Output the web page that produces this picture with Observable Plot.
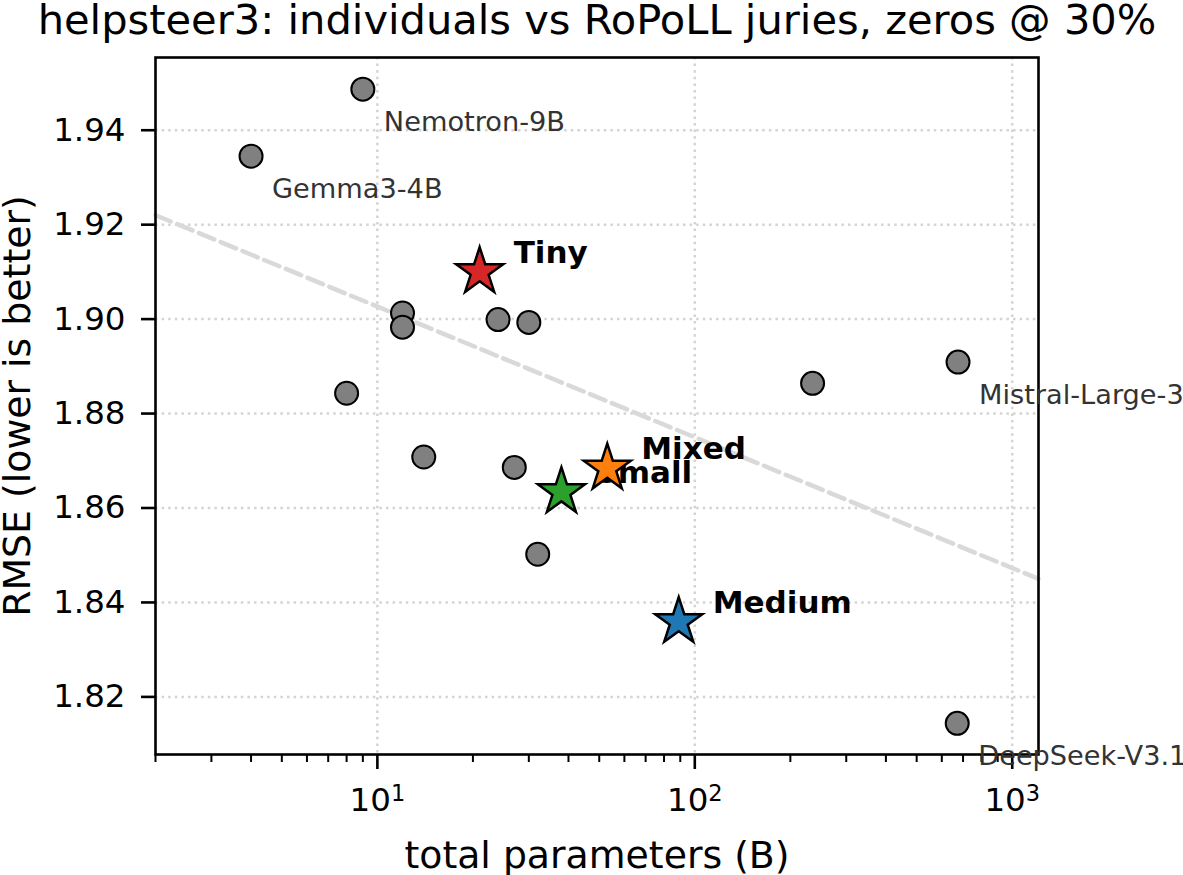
<!DOCTYPE html>
<html>
<head>
<meta charset="utf-8">
<script src="https://cdn.jsdelivr.net/npm/d3@7"></script>
<script src="https://cdn.jsdelivr.net/npm/@observablehq/plot@0.6"></script>
<style>
  html, body { margin: 0; padding: 0; background: #ffffff; }
  #chart svg { display: block; font-family: "DejaVu Sans", sans-serif; }
</style>
</head>
<body>
<div id="chart"></div>
<script>
// ---- data ----
const titleText = "helpsteer3: individuals vs RoPoLL juries, zeros @ 30%";
const xLabelText = "total parameters (B)";
const yLabelText = "RMSE (lower is better)";

// individual judges (total params in B, RMSE)
const individualParams = [9, 4, 12, 12, 8, 14, 24, 30, 27, 32, 235, 675, 671];
const individualRmse   = [1.9487, 1.9345, 1.9013, 1.8983, 1.8843, 1.8708, 1.8999, 1.8993, 1.8686, 1.8502, 1.8864, 1.8909, 1.8144];
const individualLabels = ["Nemotron-9B", "Gemma3-4B", "", "", "", "", "", "", "", "", "", "Mistral-Large-3", "DeepSeek-V3.1"];

// RoPoLL juries
const juryNames  = ["Tiny", "Mixed", "Small", "Medium"];
const juryParams = [21, 53, 38, 89];
const juryRmse   = [1.9100, 1.8684, 1.8634, 1.8359];
const juryColors = ["#d62728", "#ff7f0e", "#2ca02c", "#1f77b4"];

// trend line (log-linear fit over individuals), endpoints at the axis limits
const trendParams = [2, 1210];
const trendRmse   = [1.9220, 1.8450];

// axes
const xDomain = [2, 1210];
const yDomain = [1.8078, 1.9554];
const xMajorTicks = [10, 100, 1000];
const xMajorTickLabels = ["10¹", "10²", "10³"];
const xMinorTicks = [2, 3, 4, 5, 6, 7, 8, 9, 20, 30, 40, 50, 60, 70, 80, 90, 200, 300, 400, 500, 600, 700, 800, 900];
const yTicks = [1.82, 1.84, 1.86, 1.88, 1.90, 1.92, 1.94];
const yTickLabels = ["1.82", "1.84", "1.86", "1.88", "1.90", "1.92", "1.94"];

// ---- tables ----
const individuals = individualParams.map((p, i) => ({params: p, rmse: individualRmse[i], label: individualLabels[i]}));
const juries = juryNames.map((n, i) => ({name: n, params: juryParams[i], rmse: juryRmse[i], color: juryColors[i]}));
const trend = trendParams.map((p, i) => ({params: p, rmse: trendRmse[i]}));

const gridStyle = {stroke: "#d4d4d4", strokeOpacity: 1, strokeWidth: 2.5, strokeDasharray: "2.5,4.1"};

const chart = Plot.plot({
  width: 1183,
  height: 875,
  marginLeft: 155,
  marginRight: 145,
  marginTop: 57,
  marginBottom: 121,
  style: {fontFamily: "'DejaVu Sans', sans-serif", background: "#ffffff", color: "#000000", overflow: "visible"},
  x: {type: "log", domain: xDomain, axis: null},
  y: {domain: yDomain, axis: null},
  color: {type: "identity"},
  marks: [
    Plot.gridY(yTicks, gridStyle),
    Plot.gridX(xMajorTicks, gridStyle),
    Plot.line(trend, {x: "params", y: "rmse", stroke: "#d9d9d9", strokeWidth: 4.5, strokeDasharray: "16.5,7"}),
    Plot.dot(individuals, {x: "params", y: "rmse", r: 11.5, fill: "#808080", stroke: "#000000", strokeWidth: 2}),
    Plot.frame({stroke: "#000000", strokeWidth: 2.6}),
    Plot.axisX(xMinorTicks, {tickSize: 8, strokeWidth: 2, tickFormat: () => "", label: null}),
    Plot.axisX(xMajorTicks, {tickSize: 15, tickPadding: 18.5, strokeWidth: 2.6, fontSize: 32.5,
      tickFormat: d => xMajorTickLabels[xMajorTicks.indexOf(d)], label: null}),
    Plot.axisY(yTicks, {tickSize: 14, tickPadding: 16, strokeWidth: 2.6, fontSize: 32.5,
      tickFormat: d => yTickLabels[yTicks.indexOf(d)], label: null}),
    Plot.text(individuals.filter(d => d.label), {x: "params", y: "rmse", text: "label", dx: 21, dy: 42,
      textAnchor: "start", lineAnchor: "bottom", fontSize: 27.2, fill: "#333333"}),
    Plot.text(juries, {x: "params", y: "rmse", text: "name", dx: 34, dy: -9,
      textAnchor: "start", lineAnchor: "bottom", fontSize: 31, fontWeight: "bold", fill: "#000000"}),
    Plot.dot(juries, {x: "params", y: "rmse", symbol: "star", r: 14.8, fill: "color", stroke: "#000000", strokeWidth: 2.5}),
    Plot.text([titleText], {text: d => d, frameAnchor: "top", textAnchor: "middle", dy: -24, lineAnchor: "bottom", fontSize: 41.6, fill: "#000000"}),
    Plot.text([xLabelText], {text: d => d, frameAnchor: "bottom", textAnchor: "middle", dy: 113, lineAnchor: "bottom", fontSize: 37.8, fill: "#000000"}),
    Plot.text([yLabelText], {text: d => d, frameAnchor: "left", textAnchor: "middle", dx: -126, rotate: -90, lineAnchor: "bottom", fontSize: 37.8, fill: "#000000"})
  ]
});

// render superscript exponents like matplotlib mathtext
const supMap = {"¹": "1", "²": "2", "³": "3"};
d3.select(chart).selectAll("g[aria-label='x-axis tick label'] text").each(function () {
  const t = this.textContent;
  if (t && t.length === 3 && supMap[t[2]]) {
    const base = t.slice(0, 2);
    const exp = supMap[t[2]];
    this.textContent = "";
    this.appendChild(document.createTextNode(base));
    const ts = document.createElementNS("http://www.w3.org/2000/svg", "tspan");
    ts.setAttribute("dy", "-10");
    ts.setAttribute("font-size", "22.5");
    ts.textContent = exp;
    this.appendChild(ts);
  }
});

document.getElementById("chart").appendChild(chart);
</script>
</body>
</html>
